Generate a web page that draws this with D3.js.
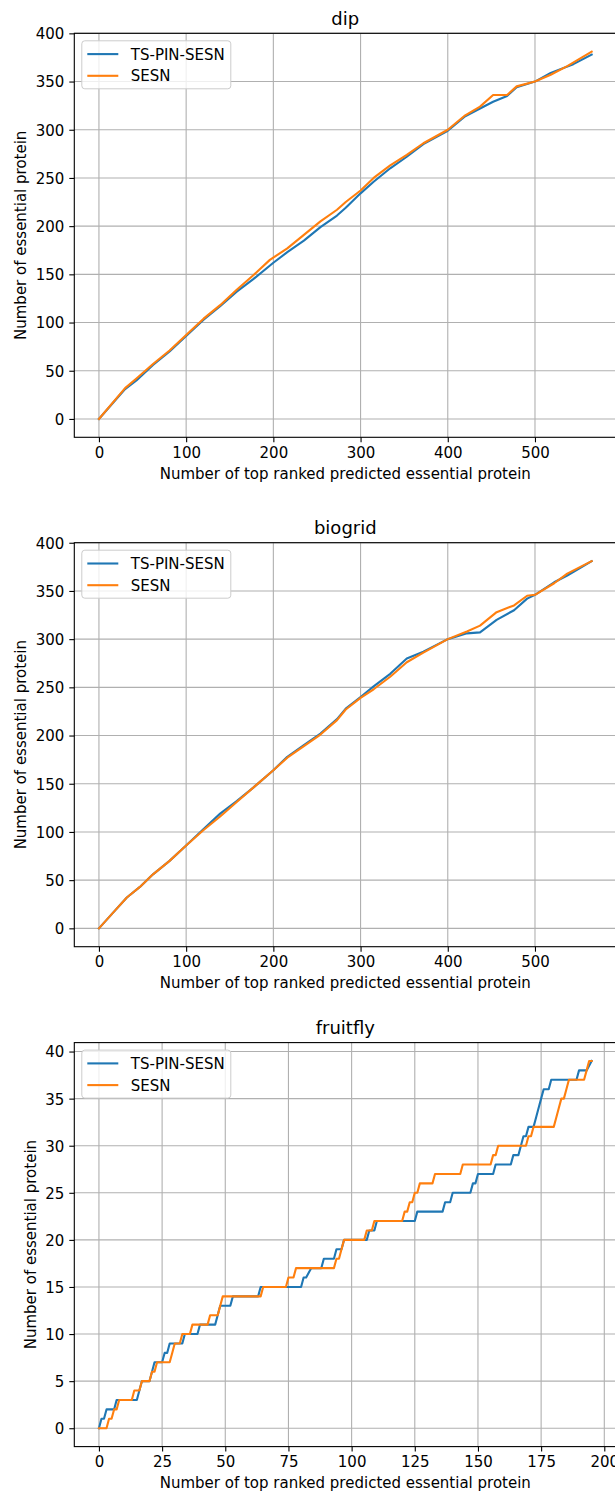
<!DOCTYPE html>
<html>
<head>
<meta charset="utf-8">
<script src="https://cdn.jsdelivr.net/npm/d3@7"></script>
<style>
body { margin: 0; background: #fff; }
svg text { font-family: "DejaVu Sans", sans-serif; fill: #000; }
</style>
</head>
<body>
<svg id="chart" width="615" height="1497"></svg>
<script>

var seriesNames = ["TS-PIN-SESN", "SESN"];
var seriesColors = ["#1f77b4", "#ff7f0e"];

var bigXTicks = [0, 100, 200, 300, 400, 500];
var bigYTicks = [0, 50, 100, 150, 200, 250, 300, 350, 400];
var flyXTicks = [0, 25, 50, 75, 100, 125, 150, 175, 200];
var flyYTicks = [0, 5, 10, 15, 20, 25, 30, 35, 40];

// [rank, essential count]
var dipTsPinSesn = [[0,0],[30,31],[43,40],[62,56],[81,70],[100,86],[120,103],[139,117],[158,132],[177,145],[200,162],[216,173],[235,185],[254,199],[273,211],[283,219],[300,234],[315,246],[334,260],[353,272],[372,285],[400,299],[420,314],[437,322],[452,329],[468,335],[479,344],[500,350],[518,359],[544,368],[565,378]];
var dipSesn = [[0,0],[30,32],[43,42],[62,57],[81,71],[100,87],[120,104],[139,118],[158,134],[177,149],[196,165],[216,177],[235,191],[254,205],[273,217],[283,225],[300,237],[315,250],[334,263],[353,274],[372,286],[400,300],[420,315],[437,324],[452,336],[468,336],[479,345],[500,350],[518,357],[537,366],[565,381]];

var biogridTsPinSesn = [[0,0],[16,16],[32,32],[47,43],[62,56],[81,70],[100,86],[120,103],[139,119],[158,132],[177,146],[200,164],[216,178],[235,190],[254,202],[273,217],[283,228],[300,240],[315,251],[334,264],[353,280],[372,287],[400,300],[422,306],[437,307],[456,320],[476,330],[491,342],[500,346],[522,359],[537,366],[565,381]];
var biogridSesn = [[0,0],[16,16],[32,32],[47,43],[62,56],[81,70],[100,86],[120,102],[139,116],[158,131],[177,146],[200,164],[216,177],[235,189],[254,201],[273,216],[283,227],[300,239],[315,248],[334,261],[353,276],[372,286],[400,300],[422,308],[437,314],[456,328],[476,335],[491,345],[500,346],[522,358],[537,368],[565,381]];

var fruitflyTsPinSesn = [[0,0],[1,1],[2,1],[3,2],[6,2],[7,3],[15,3],[16,4],[17,5],[20,5],[21,6],[22,7],[25,7],[26,8],[27,8],[28,9],[33,9],[34,10],[39,10],[40,11],[46,11],[48,13],[52,13],[53,14],[63,14],[64,15],[80,15],[81,16],[82,16],[84,17],[88,17],[89,18],[93,18],[94,19],[96,19],[97,20],[106,20],[107,21],[109,21],[110,22],[125,22],[126,23],[136,23],[137,24],[139,24],[140,25],[147,25],[148,26],[149,26],[150,27],[156,27],[157,28],[163,28],[164,29],[166,29],[167,30],[168,31],[169,31],[170,32],[172,32],[173,33],[174,34],[175,35],[176,36],[178,36],[179,37],[189,37],[190,38],[193,38],[195,39]];
var fruitflySesn = [[0,0],[3,0],[4,1],[5,1],[6,2],[7,2],[8,3],[13,3],[14,4],[16,4],[17,5],[20,5],[21,6],[22,6],[23,7],[28,7],[29,8],[30,9],[32,9],[33,10],[36,10],[37,11],[43,11],[44,12],[47,12],[48,13],[49,14],[64,14],[65,15],[74,15],[75,16],[77,16],[78,17],[93,17],[94,18],[95,18],[96,19],[97,20],[105,20],[106,21],[108,21],[109,22],[120,22],[121,23],[122,23],[123,24],[124,24],[125,25],[126,25],[127,26],[132,26],[133,27],[143,27],[144,28],[155,28],[156,29],[157,29],[158,30],[169,30],[170,31],[171,31],[172,32],[180,32],[181,33],[182,34],[183,35],[184,35],[185,36],[186,37],[192,37],[193,38],[194,39],[195,39]];


var svg = d3.select("#chart");
var fs = 15;   // base font size, px

function drawPanel(id, title, series, xTicks, yTicks, top){

	var left = 74.3, width = 542, height = 404;
	var tick = 5;

	var all = series[0].concat(series[1]);
	var xMax = d3.max(all, function(d){ return d[0]; });
	var yMax = d3.max(all, function(d){ return d[1]; });

	var x = d3.scaleLinear()
				.domain([-0.05 * xMax, 1.05 * xMax])
				.range([left, left + width]);
	var y = d3.scaleLinear()
				.domain([-0.05 * yMax, 1.05 * yMax])
				.range([top + height, top]);

	var g = svg.append("g").attr("id", id);

	g.append("clipPath")
		.attr("id", id + "-clip")
		.append("rect")
		.attr("x", left).attr("y", top)
		.attr("width", width).attr("height", height);

	// grid
	g.selectAll("line.vgrid")
		.data(xTicks)
		.enter()
		.append("line")
		.attr("class", "vgrid")
		.attr("x1", function(d){ return x(d); })
		.attr("x2", function(d){ return x(d); })
		.attr("y1", top).attr("y2", top + height)
		.attr("stroke", "#b0b0b0").attr("stroke-width", 1.1);

	g.selectAll("line.hgrid")
		.data(yTicks)
		.enter()
		.append("line")
		.attr("class", "hgrid")
		.attr("x1", left).attr("x2", left + width)
		.attr("y1", function(d){ return y(d); })
		.attr("y2", function(d){ return y(d); })
		.attr("stroke", "#b0b0b0").attr("stroke-width", 1.1);

	var line = d3.line()
				.x(function(d){ return x(d[0]); })
				.y(function(d){ return y(d[1]); });

	g.append("g")
		.attr("clip-path", "url(#" + id + "-clip)")
		.selectAll("path")
		.data(series)
		.enter()
		.append("path")
		.attr("d", line)
		.attr("fill", "none")
		.attr("stroke", function(d, i){ return seriesColors[i]; })
		.attr("stroke-width", 2.1)
		.attr("stroke-linejoin", "round")
		.attr("stroke-linecap", "square");

	// frame
	g.append("rect")
		.attr("x", left).attr("y", top)
		.attr("width", width).attr("height", height)
		.attr("fill", "none")
		.attr("stroke", "#000")
		.attr("stroke-width", 1.1);

	var xAxis = g.append("g")
		.attr("transform", "translate(0," + (top + height) + ")")
		.call(d3.axisBottom(x).tickValues(xTicks).tickFormat(d3.format("d")).tickSize(tick).tickPadding(tick));

	var yAxis = g.append("g")
		.attr("transform", "translate(" + left + ",0)")
		.call(d3.axisLeft(y).tickValues(yTicks).tickFormat(d3.format("d")).tickSize(tick).tickPadding(tick));

	[xAxis, yAxis].forEach(function(a){
		a.select(".domain").remove();
		a.attr("font-family", null).attr("font-size", null);
		a.selectAll(".tick line").attr("stroke", "#000").attr("stroke-width", 1.1);
		a.selectAll(".tick text").style("font-size", fs + "px");
	});
	xAxis.selectAll(".tick text").attr("dy", "0.72em");
	yAxis.selectAll(".tick text").attr("dy", "0.36em");

	var labelW = d3.max(yAxis.selectAll(".tick text").nodes(), function(n){ return n.getComputedTextLength(); });
	var yLabelX = left - 2 * tick - labelW - 6 - 3.6;

	g.append("text")
		.attr("transform", "translate(" + yLabelX + "," + (top + height / 2) + ") rotate(-90)")
		.style("text-anchor", "middle")
		.style("font-size", fs + "px")
		.text("Number of essential protein");

	g.append("text")
		.attr("x", left + width / 2)
		.attr("y", top + height + 41.5)
		.style("text-anchor", "middle")
		.style("font-size", fs + "px")
		.text("Number of top ranked predicted essential protein");

	g.append("text")
		.attr("x", left + width / 2)
		.attr("y", top - 8.5)
		.style("text-anchor", "middle")
		.style("font-size", (fs * 1.2) + "px")
		.text(title);

	// legend
	var lx = left + 7.5, ly = top + 7.5;
	var legend = g.append("g");
	legend.append("rect")
		.attr("x", lx).attr("y", ly)
		.attr("width", 149).attr("height", 48)
		.attr("rx", 3).attr("ry", 3)
		.attr("fill", "#fff").attr("fill-opacity", 0.8)
		.attr("stroke", "#cccccc").attr("stroke-width", 1);

	var rows = legend.selectAll("g.row")
		.data(seriesNames)
		.enter()
		.append("g")
		.attr("class", "row")
		.attr("transform", function(d, i){ return "translate(0," + (ly + 13.3 + i * 21.7) + ")"; });

	rows.append("line")
		.attr("x1", lx + 5.5).attr("x2", lx + 5.5 + 31)
		.attr("stroke", function(d, i){ return seriesColors[i]; })
		.attr("stroke-width", 2.1);

	rows.append("text")
		.attr("x", lx + 5.5 + 31 + 12.5)
		.attr("dy", "0.36em")
		.style("font-size", fs + "px")
		.text(function(d){ return d; });
}

drawPanel("dip", "dip", [dipTsPinSesn, dipSesn], bigXTicks, bigYTicks, 33.3);
drawPanel("biogrid", "biogrid", [biogridTsPinSesn, biogridSesn], bigXTicks, bigYTicks, 542.7);
drawPanel("fruitfly", "fruitfly", [fruitflyTsPinSesn, fruitflySesn], flyXTicks, flyYTicks, 1042.6);

</script>
</body>
</html>
